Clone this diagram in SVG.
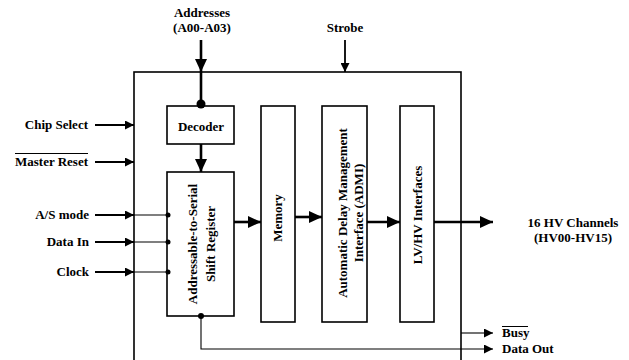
<svg xmlns="http://www.w3.org/2000/svg" width="629" height="360" viewBox="0 0 629 360">
<style>
text{font-family:"Liberation Serif","Times New Roman",serif;font-weight:bold;font-size:13px;fill:#000}
.box{fill:#fff;stroke:#000;stroke-width:1.6}
.thick{stroke:#000;stroke-width:2.6;fill:none}
.med{stroke:#000;stroke-width:1.8;fill:none}
.thin{stroke:#000;stroke-width:1.1;fill:none}
.mid{text-anchor:middle}
.end{text-anchor:end}
</style>
<defs>
<marker id="big" markerUnits="userSpaceOnUse" markerWidth="14" markerHeight="12" refX="13" refY="6" orient="auto"><path d="M0,0 L13,6 L0,12 Z" fill="#000"/></marker>
<marker id="small" markerUnits="userSpaceOnUse" markerWidth="10" markerHeight="9" refX="9" refY="4.5" orient="auto"><path d="M0,0 L9,4.5 L0,9 Z" fill="#000"/></marker>
</defs>
<rect id="chip" class="box" x="134" y="72" width="327" height="300" fill="none"/>
<g id="decoder"><rect class="box" x="167" y="106" width="67" height="38"/><text class="mid" x="201" y="131">Decoder</text></g>
<g id="shiftreg"><rect class="box" x="167" y="172" width="67" height="144"/>
<text class="mid" transform="translate(197,244) rotate(-90)">Addressable-to-Serial</text>
<text class="mid" transform="translate(215,244) rotate(-90)">Shift Register</text></g>
<g id="memory"><rect class="box" x="261" y="106" width="34" height="216"/><text class="mid" transform="translate(282,218) rotate(-90)">Memory</text></g>
<g id="admi"><rect class="box" x="322" y="106" width="45" height="216"/>
<text class="mid" transform="translate(347,213) rotate(-90)">Automatic Delay Management</text>
<text class="mid" transform="translate(363,213) rotate(-90)">Interface (ADMI)</text></g>
<g id="lvhv"><rect class="box" x="400" y="106" width="34" height="216"/><text class="mid" transform="translate(422,215) rotate(-90)">LV/HV Interfaces</text></g>
<g id="labels">
<text class="mid" x="202" y="17">Addresses</text>
<text class="mid" x="202" y="32">(A00-A03)</text>
<text class="mid" x="345" y="32">Strobe</text>
<text class="end" x="88" y="129">Chip Select</text>
<text class="end" x="88" y="166">Master Reset</text>
<line x1="15" y1="153.5" x2="88" y2="153.5" stroke="#000" stroke-width="1"/>
<text class="end" x="89" y="219">A/S mode</text>
<text class="end" x="89" y="246">Data In</text>
<text class="end" x="89" y="276">Clock</text>
<text class="mid" x="573" y="227">16 HV Channels</text>
<text class="mid" x="573" y="242">(HV00-HV15)</text>
<text x="502" y="337">Busy</text>
<line x1="502" y1="326.5" x2="528" y2="326.5" stroke="#000" stroke-width="1"/>
<text x="502" y="353">Data Out</text>
</g>
<g id="connectors">
<line class="thick" x1="201" y1="40" x2="201" y2="72" marker-end="url(#big)"/>
<line class="thick" x1="201" y1="72" x2="201" y2="104"/>
<circle cx="201" cy="104" r="4.5" fill="#000"/>
<line class="thick" x1="201" y1="144" x2="201" y2="172" marker-end="url(#big)"/>
<line class="med" x1="345" y1="40" x2="345" y2="72" marker-end="url(#small)"/>
<line class="med" x1="95" y1="125" x2="134" y2="125" marker-end="url(#small)"/>
<line class="med" x1="95" y1="162" x2="134" y2="162" marker-end="url(#small)"/>
<line class="med" x1="95" y1="215" x2="134" y2="215" marker-end="url(#small)"/>
<line class="med" x1="95" y1="242" x2="134" y2="242" marker-end="url(#small)"/>
<line class="med" x1="95" y1="272" x2="134" y2="272" marker-end="url(#small)"/>
<line class="thin" x1="134" y1="215" x2="168" y2="215"/>
<line class="thin" x1="134" y1="242" x2="168" y2="242"/>
<line class="thin" x1="134" y1="272" x2="168" y2="272"/>
<circle cx="168" cy="215" r="2.5" fill="#000"/>
<circle cx="168" cy="242" r="2.5" fill="#000"/>
<circle cx="168" cy="272" r="2.5" fill="#000"/>
<line class="thick" x1="234" y1="222" x2="261" y2="222" marker-end="url(#big)"/>
<line class="thick" x1="295" y1="217" x2="322" y2="217" marker-end="url(#big)"/>
<line class="thick" x1="367" y1="222" x2="400" y2="222" marker-end="url(#big)"/>
<line class="thick" x1="434" y1="222" x2="493" y2="222" marker-end="url(#big)"/>
<circle cx="201" cy="316" r="3" fill="#000"/>
<polyline class="thin" points="201,316 201,349 493,349" marker-end="url(#small)"/>
<line class="thin" x1="461" y1="333" x2="493" y2="333" marker-end="url(#small)"/>
</g>
</svg>
